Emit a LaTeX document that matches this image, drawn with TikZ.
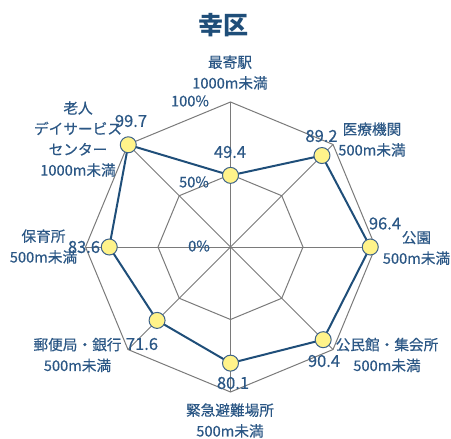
\documentclass[tikz,border=0pt]{standalone}
\usepackage{fontspec}
\setmainfont{Noto Sans CJK JP}
\newfontfamily\medf[FakeBold=0.4]{Noto Sans CJK JP}
\definecolor{txt}{HTML}{2B5785}
\definecolor{ttl}{HTML}{1F4E79}
\definecolor{dline}{HTML}{1F4E79}
\definecolor{gridc}{HTML}{7A7A7A}
\definecolor{mfill}{HTML}{FFF38A}
\definecolor{medge}{HTML}{3D6289}
\tikzset{
  gridline/.style={draw=gridc, line width=0.75pt},
  dataline/.style={draw=dline, line width=1.5pt, line join=round},
  marker/.style={circle, draw=medge, fill=mfill, line width=0.75pt, minimum size=12pt, inner sep=0pt},
  cat/.style={text=txt, align=center, inner sep=0pt, font=\medf\fontsize{11}{15.6}\selectfont},
  val/.style={text=txt, inner sep=0pt, font=\medf\fontsize{12.4}{14}\selectfont},
  pct/.style={text=txt, inner sep=0pt, font=\medf\fontsize{11}{13}\selectfont},
  title/.style={text=ttl, inner sep=0pt, font=\fontsize{18.75}{20}\selectfont\bfseries}
}
\begin{document}
\begin{tikzpicture}[x=0.75pt,y=-0.75pt]
\useasboundingbox (0,0) rectangle (451,439);
\coordinate (O) at (230.5,247);
\foreach \i/\v in {0/49.4,1/89.2,2/96.4,3/90.4,4/80.1,5/71.6,6/83.6,7/99.7}{
  \path (O) ++({145*sin(45*\i)},{-145*cos(45*\i)}) coordinate (V\i);
  \path (O) ++({72.5*sin(45*\i)},{-72.5*cos(45*\i)}) coordinate (H\i);
  \path (O) ++({1.45*\v*sin(45*\i)},{-1.45*\v*cos(45*\i)}) coordinate (P\i);
}
\draw[gridline] (V0)--(V1)--(V2)--(V3)--(V4)--(V5)--(V6)--(V7)--cycle;
\draw[gridline] (H0)--(H1)--(H2)--(H3)--(H4)--(H5)--(H6)--(H7)--cycle;
\foreach \i in {0,...,7}{\draw[gridline] (O)--(V\i);}
\draw[dataline] (P0)--(P1)--(P2)--(P3)--(P4)--(P5)--(P6)--(P7)--cycle;
\foreach \i in {0,...,7}{\node[marker] (M\i) at (P\i) {};}

\node[title] (t) at (223,25) {幸区};

\node[cat] (c0) at (230,72.5) {最寄駅\\1000m未満};
\node[cat] (c1) at (372,139.5) {医療機関\\500m未満};
\node[cat] (c2) at (416.5,248) {公園\\500m未満};
\node[cat] (c3) at (387,355) {公民館・集会所\\500m未満};
\node[cat] (c4) at (230,420.5) {緊急避難場所\\500m未満};
\node[cat] (c5) at (77.5,355) {郵便局・銀行\\500m未満};
\node[cat] (c6) at (43.5,246.5) {保育所\\500m未満};
\node[cat, font=\medf\fontsize{11}{15.5}\selectfont] (c7) at (78,139) {老人\\デイサービス\\センター\\1000m未満};

\node[val] (v0) at (230,152) {49.4};
\node[val] (v1) at (321.5,136) {89.2};
\node[val] (v2) at (385,223.5) {96.4};
\node[val] (v3) at (324,361) {90.4};
\node[val] (v4) at (233,383) {80.1};
\node[val] (v5) at (142,344) {71.6};
\node[val] (v6) at (84,247) {83.6};
\node[val] (v7) at (131,121) {99.7};

\node[pct] (p100) at (190,101) {100\%};
\node[pct] (p50) at (194,182) {50\%};
\node[pct] (p0) at (199,246) {0\%};
\end{tikzpicture}
\end{document}
